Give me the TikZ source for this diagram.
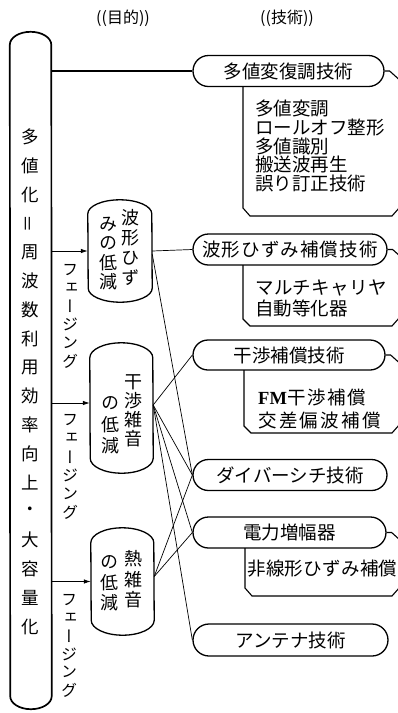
\documentclass[tikz,border=0pt]{standalone}
\usepackage{fontspec}
\usepackage{graphicx}
\setmainfont{Noto Sans CJK JP}
\newfontfamily\vfont[RawFeature=+vert]{Noto Sans CJK JP}
\newfontfamily\serifbf{Liberation Serif}
\usetikzlibrary{arrows.meta,calc}
\newcommand\pitched[2]{\foreach \cc in {#2}{\makebox[#1]{\cc}}}
\newcommand\vstack[6]{%
  \foreach \cc [count=\ii from 0] in {#6}
    \node[vch, font=\vfont\fontsize{#5}{#5}\selectfont] (#1-\ii) at (#2,{#3+#4*\ii}) {\cc};}
\newcommand\capnode[7][capline]{%
  \node[inner sep=0pt, minimum width=#5pt, minimum height=#6pt] (#2) at (#3,#4) {};
  \draw[#1] ([yshift=-#7pt]#2.north west)
    arc[start angle=180,end angle=360,x radius={#5/2},y radius=#7]
    -- ([yshift=#7pt]#2.south east)
    arc[start angle=0,end angle=180,x radius={#5/2},y radius=#7] -- cycle;}
\tikzset{
  capline/.style={line width=1.3pt},
  bigline/.style={line width=1.7pt},
  pill/.style={draw, line width=1.3pt, rounded corners=15.5pt, minimum height=31pt,
    inner sep=0pt, font=\fontsize{18.5}{18.5}\selectfont, text height=15.4pt, text depth=1.3pt},
  desc/.style={anchor=west, inner sep=0pt, font=\fontsize{18.5}{18.5}\selectfont,
    text height=15.4pt, text depth=1.3pt},
  vch/.style={inner sep=0pt},
  conn/.style={line width=0.7pt},
  arr/.style={line width=0.8pt, -{Latex[length=7pt,width=4.5pt]}},
  frame/.style={line width=1.1pt},
  title/.style={inner sep=0pt, font=\fontsize{16}{16}\selectfont}
}
\begin{document}
\begin{tikzpicture}[x=1pt,y=-1pt]
\fill[white] (0,0) rectangle (398,713);
\useasboundingbox (0,0) rectangle (398,713);

% titles
\node[title] (t1) at (123,18) {((目的))};
\node[title] (t2) at (287,18) {((技術))};

% left tall box
\capnode[bigline]{L}{30.75}{370.5}{41.5}{677}{13}
\vstack{lt}{30}{137}{28.8}{17.5}{多,値,化,{\rotatebox{90}{\rmfamily ＝}},周,波,数,利,用,効,率,向,上,・,大,容,量,化}

% middle nodes
\capnode{N1}{120}{251}{64}{102}{14}
\capnode{N2}{121.5}{408}{63}{130}{15}
\capnode{N3}{122.5}{581.5}{63}{107}{15}
\vstack{n1r}{130}{218}{20}{18}{波,形,ひ,ず}
\vstack{n1l}{108}{224}{19.2}{18}{み,の,低,減}
\vstack{n2r}{133}{382}{18.8}{18}{干,渉,雑,音}
\vstack{n2l}{110}{403}{21.2}{18}{の,低,減}
\vstack{n3r}{133}{559}{20.5}{18}{熱,雑,音}
\vstack{n3l}{109}{562}{20.5}{18}{の,低,減}

% fading labels
\vstack{f1}{70}{270}{18.2}{16}{フ,ェ,ー,ジ,ン,グ}
\vstack{f2}{70}{420}{18.4}{16}{フ,ェ,ー,ジ,ン,グ}
\vstack{f3}{69}{600}{18}{16}{フ,ェ,ー,ジ,ン,グ}

% right pills
\node[pill, minimum width=191pt] (p1) at (288.5,71) {多値変復調技術};
\node[pill, minimum width=194pt] (p2) at (290,249.5) {\pitched{19.6pt}{波,形,ひ,ず,み,補,償,技,術}};
\node[pill, minimum width=192pt, minimum height=30pt, rounded corners=15pt] (p3) at (289,355) {干渉補償技術};
\node[pill, minimum width=194pt] (p4) at (290,475) {ダイバーシチ技術};
\node[pill, minimum width=193pt] (p5) at (289.5,532.5) {電力増幅器};
\node[pill, minimum width=195pt, minimum height=32pt, rounded corners=16pt] (p6) at (290.5,640) {アンテナ技術};

% description frames
\draw[frame] (243,86.5) -- (243,208) -- (250,216) -- (392,216) -- (400,207);
\draw[frame] (p1.east) -- ++(5,0) -- ++(10,9);
\draw[frame] (243,265) -- (243,319) -- (250,326) -- (392,326) -- (400,317);
\draw[frame] (p2.east) -- ++(5,0) -- ++(10,9);
\draw[frame] (244,370) -- (244,426) -- (251,433) -- (392,433) -- (400,424);
\draw[frame] (p3.east) -- ++(5,0) -- ++(10,9);
\draw[frame] (245,548) -- (245,588) -- (252,596) -- (392,596) -- (400,587);
\draw[frame] (p5.east) -- ++(5,0) -- ++(10,9);

% description texts
\node[desc] (d11) at (255,108) {多値変調};
\node[desc] (d12) at (255,127) {ロールオフ整形};
\node[desc] (d13) at (255,146) {多値識別};
\node[desc] (d14) at (255,164) {搬送波再生};
\node[desc] (d15) at (255,183) {誤り訂正技術};
\node[desc] (d21) at (255,287) {\pitched{18.8pt}{マ,ル,チ,キ,ャ,リ,ヤ}};
\node[desc] (d22) at (255,308) {自動等化器};
\node[desc] (d31) at (258,397) {{\serifbf\bfseries FM}\pitched{20pt}{干,渉,補,償}};
\node[desc] (d32) at (257,420) {\pitched{20.8pt}{交,差,偏,波,補,償}};
\node[desc] (d51) at (247,568) {\pitched{18.8pt}{非,線,形,ひ,ず,み,補,償}};

% connector end points
\coordinate (N2in) at ([yshift=5pt]N2.west);
\coordinate (N1out) at ([yshift=-3pt]N1.east);
\coordinate (N2out) at ([yshift=3pt]N2.east);
\coordinate (N3out) at ([yshift=5pt]N3.east);

% connectors
\draw[bigline] (L.east |- p1.west) -- (p1.west);
\draw[arr] (L.east |- N1.west) -- (N1.west);
\draw[arr] (L.east |- N2in) -- (N2in);
\draw[arr] (L.east |- N3.west) -- (N3.west);
\draw[conn] (N1.east) -- (p2.west);
\draw[conn] (N1out) -- (p4.west);
\draw[conn] (N2out) -- (p3.west);
\draw[conn] (N2out) -- (p4.west);
\draw[conn] (N2out) -- (p5.west);
\draw[conn] (N2out) -- (p6.west);
\draw[conn] (N3out) -- (p4.west);
\draw[conn] (N3out) -- (p5.west);
\end{tikzpicture}
\end{document}
